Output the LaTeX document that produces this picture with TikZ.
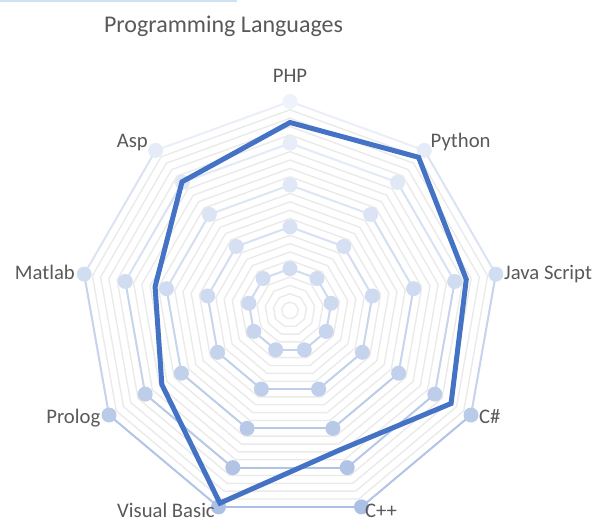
\documentclass[tikz,border=0pt]{standalone}
\usepackage{fontspec}
\setmainfont{Carlito}
\definecolor{txt}{RGB}{89,89,89}
\definecolor{gridc}{RGB}{234,234,234}
\definecolor{dtop}{RGB}{238,242,250}
\definecolor{dbot}{RGB}{170,191,228}
\definecolor{mainc}{RGB}{68,114,196}
\definecolor{topline}{RGB}{207,226,243}
\tikzset{
  lbl/.style={text=txt, inner sep=0pt, font=\fontsize{20.7}{24}\selectfont},
  ttl/.style={text=txt, inner sep=0pt, font=\fontsize{24}{28}\selectfont},
  gridring/.style={draw=gridc, line width=1.4pt, line join=miter},
  serline/.style={line width=2pt},
  mainline/.style={draw=mainc, line width=5pt, line join=miter}
}
\begin{document}
\begin{tikzpicture}[x=1pt,y=1pt]
\useasboundingbox (0,0) rectangle (607,-521);
\coordinate (tl0) at (0,-0.8);
\coordinate (tl1) at (237,-0.8);
\draw[topline, line width=1.6pt] (tl0) -- (tl1);
\node[ttl, anchor=base] (title) at (223.5,-32.3) {Programming Languages};
\begin{scope}[shift={(290,-310.5)}]
  % grid rings
  \foreach \k in {1,...,25}{
    \pgfmathsetmacro\r{\k*209/25}
    \draw[gridring] (90:\r) \foreach \i in {1,...,8}{ -- ({90-40*\i}:\r)} -- cycle;
  }
  % series rings with dots
  \foreach \s in {1,...,5}{
    \pgfmathsetmacro\r{\s*209/5}
    \foreach \i in {0,...,8}{
      \pgfmathsetmacro\a{90-40*\i}
      \pgfmathsetmacro\b{90-40*(\i+1)}
      \pgfmathtruncatemacro\t{max(0,min(100,(310.5-\r*(sin(\a)+sin(\b))/2-100)/408*100))}
      \draw[serline, draw=dbot!\t!dtop] (\a:\r) -- (\b:\r);
    }
    \foreach \i in {0,...,8}{
      \pgfmathsetmacro\a{90-40*\i}
      \pgfmathtruncatemacro\t{max(0,min(100,(310.5-\r*sin(\a)-100)/408*100))}
      \fill[dbot!\t!dtop] (\a:\r) circle (7.5);
    }
  }
  % main series
  \coordinate (m0) at (90:188);
  \coordinate (m1) at (50:200);
  \coordinate (m2) at (10:179);
  \coordinate (m3) at (-30:186);
  \coordinate (m4) at (-70:148);
  \coordinate (m5) at (-110:205);
  \coordinate (m6) at (-150:148);
  \coordinate (m7) at (-190:137);
  \coordinate (m8) at (-230:168);
  \draw[mainline] (m0) -- (m1) -- (m2) -- (m3) -- (m4) -- (m5) -- (m6) -- (m7) -- (m8) -- cycle;
\end{scope}
\node[lbl, anchor=base] (php) at (290,-82.7) {PHP};
\node[lbl, anchor=base west] (py) at (430.5,-147.3) {Python};
\node[lbl, anchor=base west] (js) at (504,-279.3) {Java Script};
\node[lbl, anchor=base west] (cs) at (479,-423.5) {C\#};
\node[lbl, anchor=base west] (cpp) at (365,-517) {C++};
\node[lbl, anchor=base east] (vb) at (215,-517) {Visual Basic};
\node[lbl, anchor=base east] (prolog) at (100.5,-423.5) {Prolog};
\node[lbl, anchor=base east] (matlab) at (75,-279.3) {Matlab};
\node[lbl, anchor=base east] (asp) at (148,-147.3) {Asp};
\end{tikzpicture}
\end{document}
